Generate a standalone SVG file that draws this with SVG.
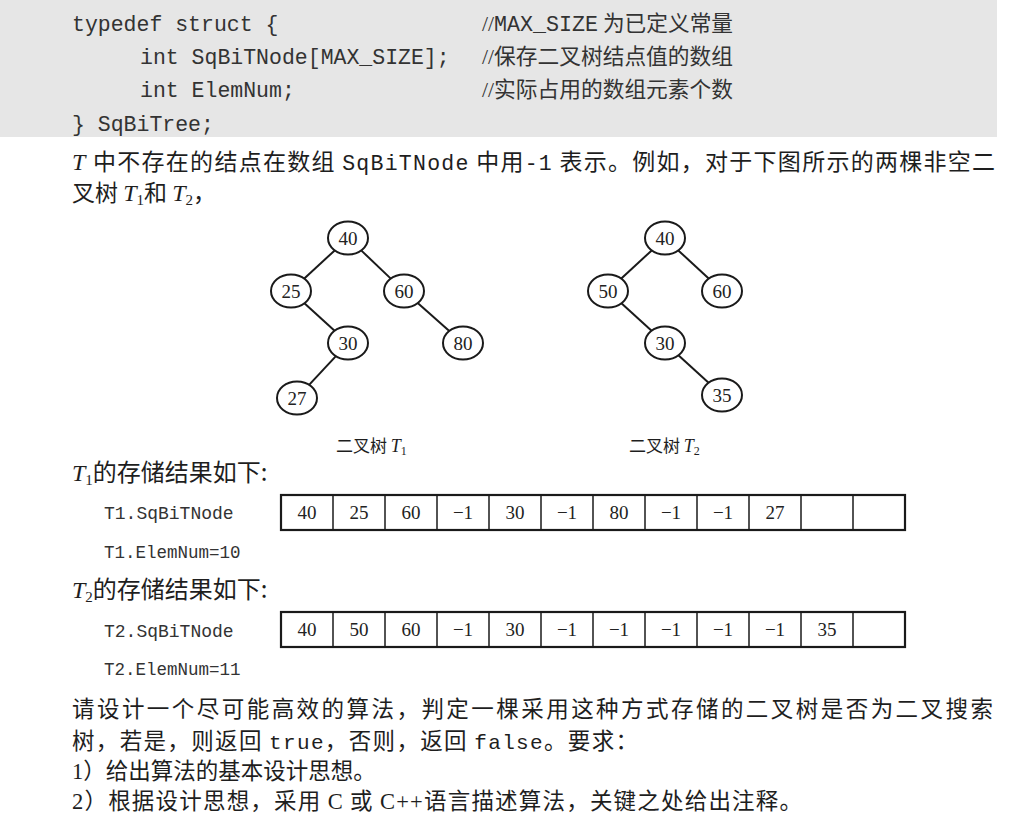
<svg xmlns="http://www.w3.org/2000/svg" width="1017" height="823" viewBox="0 0 1017 823">
<style>
.mono{font-family:"Liberation Mono","DejaVu Sans Mono",monospace;}
.cjk{font-family:"Noto Sans CJK SC","Noto Sans CJK JP",sans-serif;}
.serif{font-family:"Liberation Serif","Noto Sans CJK SC",serif;}
.it{font-family:"Liberation Serif",serif;font-style:italic;}
.txt{fill:#1e1e1e;}
.code{fill:#333;font-size:21.5px;}
.node ellipse{fill:#fff;stroke:#1a1a1a;stroke-width:2;}
.node text{font-family:"Liberation Serif",serif;font-size:19px;fill:#222;text-anchor:middle;}
.edges line{stroke:#1a1a1a;stroke-width:2;}
.arr rect{fill:#fff;stroke:#1a1a1a;stroke-width:2.2;}
.arr line{stroke:#1a1a1a;stroke-width:1.5;}
.arr text{font-family:"Liberation Serif",serif;font-size:19px;fill:#222;text-anchor:middle;}
</style>
<rect x="0" y="0" width="1017" height="823" fill="#fff"/>
<rect x="0" y="0" width="997" height="137" fill="#e6e6e6"/>

<g id="code">
<text class="mono code" x="72" y="31">typedef struct {</text>
<text class="mono code" x="140" y="64">int SqBiTNode[MAX_SIZE];</text>
<text class="mono code" x="140" y="97">int ElemNum;</text>
<text class="mono code" x="72" y="131">} SqBiTree;</text>
<text x="482" y="31" fill="#333" font-size="21.5" textLength="251" lengthAdjust="spacingAndGlyphs"><tspan class="serif">//</tspan><tspan class="mono">MAX_SIZE</tspan><tspan class="cjk"> 为已定义常量</tspan></text>
<text x="482" y="64" fill="#333" font-size="21.5" textLength="251" lengthAdjust="spacingAndGlyphs"><tspan class="serif">//</tspan><tspan class="cjk">保存二叉树结点值的数组</tspan></text>
<text x="482" y="97" fill="#333" font-size="21.5" textLength="251" lengthAdjust="spacingAndGlyphs"><tspan class="serif">//</tspan><tspan class="cjk">实际占用的数组元素个数</tspan></text>
</g>

<g id="intro" class="txt" font-size="23">
<text x="72" y="170" textLength="923" lengthAdjust="spacing"><tspan class="it" font-size="24">T</tspan><tspan class="cjk"> 中不存在的结点在数组 </tspan><tspan class="mono" font-size="21.5">SqBiTNode</tspan><tspan class="cjk"> 中用</tspan><tspan class="mono" font-size="21.5">-1</tspan><tspan class="cjk"> 表示。例如，对于下图所示的两棵非空二</tspan></text>
<text x="72" y="201"><tspan class="cjk">叉树 </tspan><tspan class="it" font-size="24">T</tspan><tspan class="serif" font-size="15" dy="4">1</tspan><tspan class="cjk" dy="-4">和 </tspan><tspan class="it" font-size="24">T</tspan><tspan class="serif" font-size="15" dy="4">2</tspan><tspan class="cjk" dy="-4">，</tspan></text>
</g>

<g id="connectors" class="edges">
<line x1="334.7" y1="250.4" x2="304.3" y2="278.6"/>
<line x1="361.2" y1="250.4" x2="390.8" y2="278.6"/>
<line x1="304.4" y1="303.2" x2="334.6" y2="330.8"/>
<line x1="417.7" y1="303" x2="449.3" y2="331"/>
<line x1="335.9" y1="356.1" x2="309.1" y2="384.9"/>
<line x1="651.7" y1="250.4" x2="621.3" y2="278.6"/>
<line x1="678.3" y1="250.4" x2="708.7" y2="278.6"/>
<line x1="621.4" y1="303.2" x2="651.6" y2="330.8"/>
<line x1="678.4" y1="355.2" x2="708.6" y2="382.8"/>
</g>

<g id="t1-40" class="node"><ellipse cx="348" cy="238" rx="20" ry="16.5"/><text x="348" y="244.5">40</text></g>
<g id="t1-25" class="node"><ellipse cx="291" cy="291" rx="20" ry="16.5"/><text x="291" y="297.5">25</text></g>
<g id="t1-60" class="node"><ellipse cx="404" cy="291" rx="20" ry="16.5"/><text x="404" y="297.5">60</text></g>
<g id="t1-30" class="node"><ellipse cx="348" cy="343" rx="20" ry="16.5"/><text x="348" y="349.5">30</text></g>
<g id="t1-80" class="node"><ellipse cx="463" cy="343" rx="20" ry="16.5"/><text x="463" y="349.5">80</text></g>
<g id="t1-27" class="node"><ellipse cx="297" cy="398" rx="20" ry="16.5"/><text x="297" y="404.5">27</text></g>

<g id="t2-40" class="node"><ellipse cx="665" cy="238" rx="20" ry="16.5"/><text x="665" y="244.5">40</text></g>
<g id="t2-50" class="node"><ellipse cx="608" cy="291" rx="20" ry="16.5"/><text x="608" y="297.5">50</text></g>
<g id="t2-60" class="node"><ellipse cx="722" cy="291" rx="20" ry="16.5"/><text x="722" y="297.5">60</text></g>
<g id="t2-30" class="node"><ellipse cx="665" cy="343" rx="20" ry="16.5"/><text x="665" y="349.5">30</text></g>
<g id="t2-35" class="node"><ellipse cx="722" cy="395" rx="20" ry="16.5"/><text x="722" y="401.5">35</text></g>

<g id="captions" class="txt">
<text x="336" y="452" font-size="17"><tspan class="cjk">二叉树 </tspan><tspan class="it" font-size="18">T</tspan><tspan class="serif" font-size="12" dy="3">1</tspan></text>
<text x="629" y="452" font-size="17"><tspan class="cjk">二叉树 </tspan><tspan class="it" font-size="18">T</tspan><tspan class="serif" font-size="12" dy="3">2</tspan></text>
</g>

<g id="t1-store" class="txt">
<text x="72" y="481" font-size="24"><tspan class="it" font-size="24">T</tspan><tspan class="serif" font-size="15" dy="4">1</tspan><tspan class="cjk" dy="-4">的存储结果如下:</tspan></text>
<text class="mono" x="104" y="519" font-size="18" fill="#333">T1.SqBiTNode</text>
<text class="mono" x="104" y="558" font-size="17.5" fill="#333">T1.ElemNum=10</text>
</g>
<g id="t1-array" class="arr">
<rect x="281" y="495" width="624" height="35"/>
<line x1="333" y1="495" x2="333" y2="530"/><line x1="385" y1="495" x2="385" y2="530"/><line x1="437" y1="495" x2="437" y2="530"/><line x1="489" y1="495" x2="489" y2="530"/><line x1="541" y1="495" x2="541" y2="530"/><line x1="593" y1="495" x2="593" y2="530"/><line x1="645" y1="495" x2="645" y2="530"/><line x1="697" y1="495" x2="697" y2="530"/><line x1="749" y1="495" x2="749" y2="530"/><line x1="801" y1="495" x2="801" y2="530"/><line x1="853" y1="495" x2="853" y2="530"/>
<text x="307" y="519">40</text><text x="359" y="519">25</text><text x="411" y="519">60</text><text x="463" y="519">−1</text><text x="515" y="519">30</text><text x="567" y="519">−1</text><text x="619" y="519">80</text><text x="671" y="519">−1</text><text x="723" y="519">−1</text><text x="775" y="519">27</text>
</g>

<g id="t2-store" class="txt">
<text x="72" y="598" font-size="24"><tspan class="it" font-size="24">T</tspan><tspan class="serif" font-size="15" dy="4">2</tspan><tspan class="cjk" dy="-4">的存储结果如下:</tspan></text>
<text class="mono" x="104" y="637" font-size="18" fill="#333">T2.SqBiTNode</text>
<text class="mono" x="104" y="675" font-size="17.5" fill="#333">T2.ElemNum=11</text>
</g>
<g id="t2-array" class="arr">
<rect x="281" y="612" width="624" height="35"/>
<line x1="333" y1="612" x2="333" y2="647"/><line x1="385" y1="612" x2="385" y2="647"/><line x1="437" y1="612" x2="437" y2="647"/><line x1="489" y1="612" x2="489" y2="647"/><line x1="541" y1="612" x2="541" y2="647"/><line x1="593" y1="612" x2="593" y2="647"/><line x1="645" y1="612" x2="645" y2="647"/><line x1="697" y1="612" x2="697" y2="647"/><line x1="749" y1="612" x2="749" y2="647"/><line x1="801" y1="612" x2="801" y2="647"/><line x1="853" y1="612" x2="853" y2="647"/>
<text x="307" y="636">40</text><text x="359" y="636">50</text><text x="411" y="636">60</text><text x="463" y="636">−1</text><text x="515" y="636">30</text><text x="567" y="636">−1</text><text x="619" y="636">−1</text><text x="671" y="636">−1</text><text x="723" y="636">−1</text><text x="775" y="636">−1</text><text x="827" y="636">35</text>
</g>

<g id="question" class="txt" font-size="22.5">
<text class="cjk" x="72" y="717" textLength="921" lengthAdjust="spacing">请设计一个尽可能高效的算法，判定一棵采用这种方式存储的二叉树是否为二叉搜索</text>
<text x="72" y="749" textLength="566" lengthAdjust="spacing"><tspan class="cjk">树，若是，则返回 </tspan><tspan class="mono" font-size="21">true</tspan><tspan class="cjk">，否则，返回 </tspan><tspan class="mono" font-size="21">false</tspan><tspan class="cjk">。要求：</tspan></text>
<text x="72" y="779"><tspan class="serif">1</tspan><tspan class="cjk">）给出算法的基本设计思想。</tspan></text>
<text x="72" y="809" textLength="730" lengthAdjust="spacing"><tspan class="serif">2</tspan><tspan class="cjk">）根据设计思想，采用 </tspan><tspan class="serif">C</tspan><tspan class="cjk"> 或 </tspan><tspan class="serif">C++</tspan><tspan class="cjk">语言描述算法，关键之处给出注释。</tspan></text>
</g>
</svg>
